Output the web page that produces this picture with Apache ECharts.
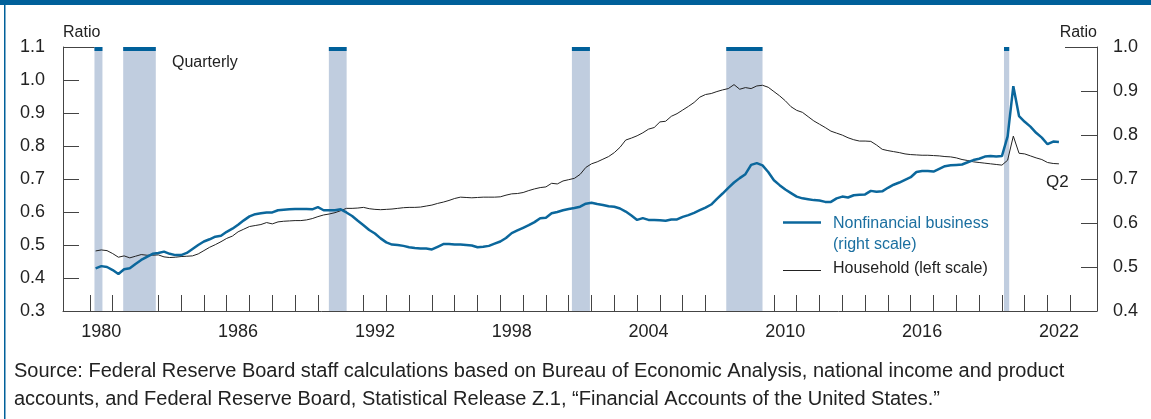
<!DOCTYPE html>
<html>
<head>
<meta charset="utf-8">
<script src="https://cdn.jsdelivr.net/npm/echarts@6/dist/echarts.min.js"></script>
<style>
  html, body { margin: 0; padding: 0; background: #fff; }
  #chart { width: 1151px; height: 419px; }
</style>
</head>
<body>
<div id="chart"></div>
<script>
// quarterly ratios, first point is 1980 Q1
const firstYear = 1980;

const nonfinancial = [
  0.497, 0.502, 0.500, 0.493,  0.484, 0.495, 0.497, 0.507,  0.516, 0.523, 0.530, 0.532,
  0.535, 0.530, 0.527, 0.527,  0.532, 0.541, 0.550, 0.558,  0.563, 0.569, 0.571, 0.580,
  0.587, 0.596, 0.606, 0.615,  0.620, 0.622, 0.624, 0.624,  0.629, 0.630, 0.631, 0.632,
  0.632, 0.632, 0.631, 0.636,  0.629, 0.629, 0.629, 0.631,  0.624, 0.616, 0.605, 0.595,
  0.584, 0.576, 0.565, 0.556,  0.551, 0.550, 0.548, 0.545,  0.543, 0.542, 0.542, 0.540,
  0.546, 0.552, 0.552, 0.551,  0.551, 0.550, 0.549, 0.545,  0.546, 0.548, 0.553, 0.558,
  0.566, 0.577, 0.583, 0.589,  0.595, 0.602, 0.611, 0.612,  0.622, 0.625, 0.629, 0.632,
  0.634, 0.637, 0.644, 0.646,  0.643, 0.641, 0.638, 0.637,  0.633, 0.626, 0.617, 0.607,
  0.611, 0.607, 0.607, 0.606,  0.605, 0.608, 0.608, 0.614,  0.618, 0.623, 0.629, 0.635,
  0.642, 0.655, 0.667, 0.680,  0.692, 0.702, 0.711, 0.732,  0.736, 0.731, 0.716, 0.697,
  0.686, 0.676, 0.668, 0.660,  0.656, 0.654, 0.652, 0.651,  0.648, 0.648, 0.656, 0.660,
  0.658, 0.663, 0.664, 0.665,  0.673, 0.671, 0.672, 0.680,  0.687, 0.692, 0.698, 0.704,
  0.716, 0.718, 0.718, 0.717,  0.723, 0.729, 0.731, 0.732,  0.733, 0.738, 0.743, 0.746,
  0.751, 0.752, 0.751, 0.752,  0.797, 0.911, 0.843, 0.830,  0.819, 0.805, 0.794, 0.779,
  0.785, 0.784
];

const household = [
  0.482, 0.485, 0.483, 0.474,  0.463, 0.467, 0.461, 0.466,  0.471, 0.469, 0.469, 0.470,
  0.464, 0.462, 0.463, 0.465,  0.466, 0.467, 0.473, 0.483,  0.493, 0.501, 0.510, 0.520,
  0.527, 0.540, 0.548, 0.556,  0.559, 0.562, 0.568, 0.564,  0.570, 0.572, 0.573, 0.574,
  0.574, 0.576, 0.580, 0.586,  0.591, 0.594, 0.598, 0.604,  0.611, 0.611, 0.612, 0.614,
  0.610, 0.608, 0.607, 0.608,  0.609, 0.611, 0.613, 0.614,  0.614, 0.615, 0.618, 0.621,
  0.626, 0.630, 0.635, 0.641,  0.645, 0.644, 0.643, 0.644,  0.645, 0.645, 0.645, 0.646,
  0.651, 0.655, 0.656, 0.659,  0.665, 0.670, 0.674, 0.676,  0.687, 0.685, 0.694, 0.698,
  0.702, 0.714, 0.735, 0.746,  0.752, 0.760, 0.768, 0.780,  0.796, 0.818, 0.824, 0.831,
  0.840, 0.851, 0.856, 0.873,  0.875, 0.890, 0.898, 0.909,  0.920, 0.932, 0.948, 0.956,
  0.959, 0.965, 0.970, 0.974,  0.986, 0.972, 0.977, 0.974,  0.982, 0.984, 0.978, 0.965,
  0.952, 0.937, 0.919, 0.908,  0.902, 0.889, 0.876, 0.866,  0.856, 0.845, 0.839, 0.833,
  0.825, 0.819, 0.815, 0.815,  0.814, 0.803, 0.790, 0.786,  0.783, 0.780, 0.776, 0.774,
  0.773, 0.772, 0.772, 0.771,  0.770, 0.768, 0.767, 0.764,  0.759, 0.756, 0.752, 0.750,
  0.748, 0.746, 0.744, 0.742,  0.757, 0.830, 0.778, 0.776,  0.770, 0.764, 0.759, 0.750,
  0.747, 0.746
];

// recession shading, in fractional years
const recessionStart = [1980.20, 1981.46, 1990.48, 2001.14, 2007.91, 2020.09];
const recessionEnd   = [1980.55, 1982.89, 1991.26, 2001.93, 2009.50, 2020.32];

const yearLabels = [1980, 1986, 1992, 1998, 2004, 2010, 2016, 2022];
const yearTicks = [];
for (let y = 1980; y <= 2023; y++) yearTicks.push(y);

const leftTicks = [0.3, 1.1];
const rightTicks = [0.4, 1.0];

// quarter-end position on the time axis
const quarterPos = i => firstYear + (i + 1) / 4;

const FONT = '"Liberation Sans", Arial, sans-serif';
const BLUE = '#0b679c';
const DARK = '#222';
const AXIS = '#444';

const chart = echarts.init(document.getElementById('chart'));

const option = {
  animation: false,
  textStyle: { fontFamily: FONT },
  grid: { left: 63, right: 54, top: 47, bottom: 108 },
  xAxis: {
    type: 'value',
    min: 1978.82,
    max: 2024.17,
    splitLine: { show: false },
    axisLine: { lineStyle: { color: AXIS, width: 1 } },
    axisTick: {
      inside: true, length: 16,
      customValues: yearTicks,
      lineStyle: { color: AXIS }
    },
    axisLabel: {
      customValues: yearLabels.map(y => y + 0.5),
      formatter: v => String(Math.floor(v)),
      fontSize: 18, color: DARK, margin: 12, fontFamily: FONT
    }
  },
  yAxis: [
    {
      type: 'value',
      min: leftTicks[0], max: leftTicks[1], interval: 0.1,
      position: 'left',
      name: 'Ratio',
      nameLocation: 'end',
      nameGap: 14,
      nameTextStyle: { align: 'left', verticalAlign: 'middle', fontSize: 16, color: DARK, fontFamily: FONT },
      splitLine: { show: false },
      axisLine: { show: true, lineStyle: { color: AXIS, width: 1 } },
      axisTick: { show: true, inside: true, length: 16, lineStyle: { color: AXIS } },
      axisLabel: { formatter: v => v.toFixed(1), fontSize: 18, color: DARK, margin: 18, fontFamily: FONT }
    },
    {
      type: 'value',
      min: rightTicks[0], max: rightTicks[1], interval: 0.1,
      position: 'right',
      name: 'Ratio',
      nameLocation: 'end',
      nameGap: 14,
      nameTextStyle: { align: 'right', verticalAlign: 'middle', fontSize: 16, color: DARK, fontFamily: FONT },
      splitLine: { show: false },
      axisLine: { show: true, lineStyle: { color: AXIS, width: 1 } },
      axisTick: { show: true, inside: true, length: 16, lineStyle: { color: AXIS } },
      axisLabel: { formatter: v => v.toFixed(1), fontSize: 18, color: DARK, margin: 16, fontFamily: FONT }
    }
  ],
  series: [
    {
      name: 'Recessions',
      type: 'custom',
      yAxisIndex: 0,
      z: 1,
      silent: true,
      data: recessionStart.map((s, i) => [s, recessionEnd[i]]),
      renderItem: (params, api) => {
        const p0 = api.coord([api.value(0), leftTicks[1]]);
        const p1 = api.coord([api.value(1), leftTicks[0]]);
        const w = p1[0] - p0[0];
        return {
          type: 'group',
          children: [
            { type: 'rect', shape: { x: p0[0], y: p0[1], width: w, height: p1[1] - p0[1] },
              style: { fill: '#c0cddf' } },
            { type: 'rect', shape: { x: p0[0], y: p0[1], width: w, height: 4 },
              style: { fill: '#00609a' } }
          ]
        };
      }
    },
    {
      name: 'Household (left scale)',
      type: 'line',
      yAxisIndex: 0,
      z: 3,
      symbol: 'none',
      data: household.map((v, i) => [quarterPos(i), v]),
      lineStyle: { color: DARK, width: 1 }
    },
    {
      name: 'Nonfinancial business (right scale)',
      type: 'line',
      yAxisIndex: 1,
      z: 4,
      symbol: 'none',
      data: nonfinancial.map((v, i) => [quarterPos(i), v]),
      lineStyle: { color: BLUE, width: 2.5 }
    }
  ],
  graphic: [
    // frame
    { type: 'rect', left: 0, top: 0, shape: { width: 1151, height: 5 }, style: { fill: '#00609a' } },
    { type: 'rect', left: 4, top: 0, shape: { width: 1.5, height: 419 }, style: { fill: '#00609a' } },
    // long top ticks
    { type: 'line', shape: { x1: 63, y1: 47.5, x2: 95, y2: 47.5 }, style: { stroke: AXIS, lineWidth: 1 } },
    { type: 'line', shape: { x1: 1065, y1: 47.5, x2: 1097, y2: 47.5 }, style: { stroke: AXIS, lineWidth: 1 } },
    { type: 'text', left: 172, top: 55, style: { text: 'Quarterly', font: '16px ' + FONT, fill: DARK } },
    { type: 'text', left: 1046, top: 174, style: { text: 'Q2', font: '17px ' + FONT, fill: DARK } },
    // legend
    { type: 'line', shape: { x1: 783, y1: 222.5, x2: 821, y2: 222.5 }, style: { stroke: BLUE, lineWidth: 2.5 } },
    { type: 'text', left: 833, top: 213, style: { text: 'Nonfinancial business\n(right scale)', font: '16px ' + FONT, fill: '#1b6fa0', lineHeight: 21 } },
    { type: 'line', shape: { x1: 783, y1: 270.5, x2: 821, y2: 270.5 }, style: { stroke: DARK, lineWidth: 1 } },
    { type: 'text', left: 833, top: 261, style: { text: 'Household (left scale)', font: '16px ' + FONT, fill: DARK } },
    // source note
    { type: 'text', left: 14, top: 361, style: { text: 'Source: Federal Reserve Board staff calculations based on Bureau of Economic Analysis, national income and product', font: '20px ' + FONT, fill: DARK } },
    { type: 'text', left: 14, top: 389, style: { text: 'accounts, and Federal Reserve Board, Statistical Release Z.1, \u201cFinancial Accounts of the United States.\u201d', font: '20px ' + FONT, fill: DARK } }
  ]
};

chart.setOption(option);
</script>
</body>
</html>
